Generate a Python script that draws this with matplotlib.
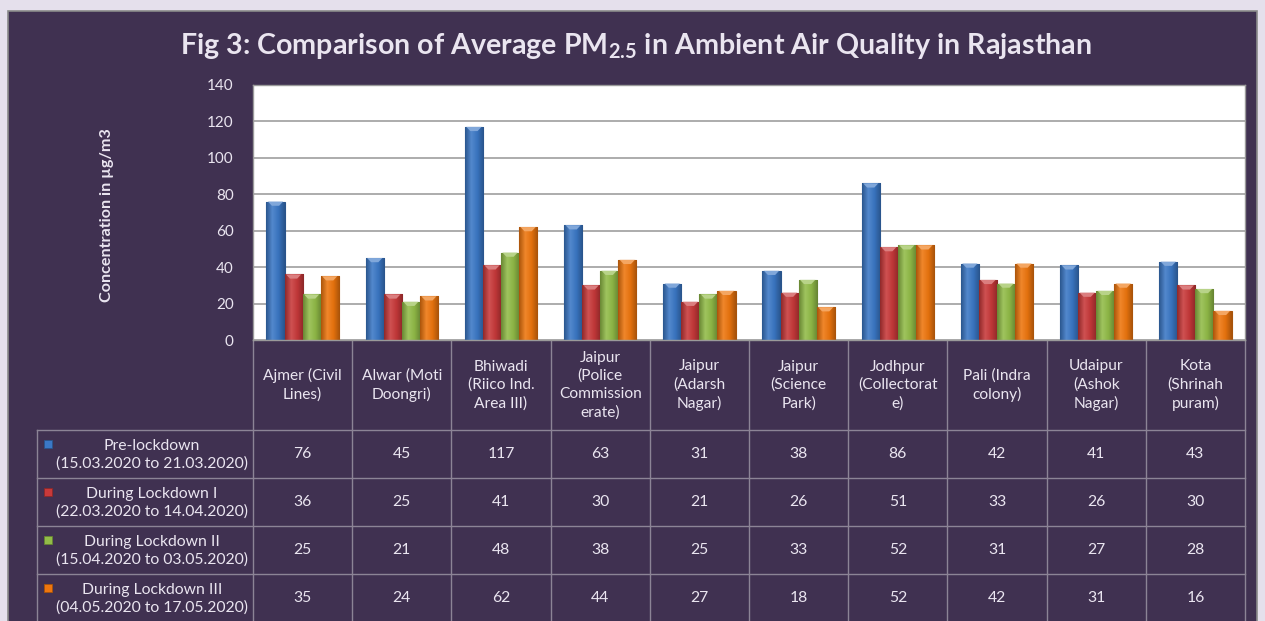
import numpy as np
import matplotlib
matplotlib.use("Agg")
import matplotlib.pyplot as plt
from matplotlib.patches import Rectangle, Polygon
from matplotlib.colors import LinearSegmentedColormap, to_rgb

categories = ["Ajmer (Civil\nLines)", "Alwar (Moti\nDoongri)", "Bhiwadi\n(Riico Ind.\nArea III)",
              "Jaipur\n(Police\nCommission\nerate)", "Jaipur\n(Adarsh\nNagar)", "Jaipur\n(Science\nPark)",
              "Jodhpur\n(Collectorat\ne)", "Pali (Indra\ncolony)", "Udaipur\n(Ashok\nNagar)",
              "Kota\n(Shrinah\npuram)"]
series_names = ["Pre-lockdown\n(15.03.2020 to 21.03.2020)",
                "During Lockdown I\n(22.03.2020 to 14.04.2020)",
                "During Lockdown II\n(15.04.2020 to 03.05.2020)",
                "During Lockdown III\n(04.05.2020 to 17.05.2020)"]
pre_lockdown = [76, 45, 117, 63, 31, 38, 86, 42, 41, 43]
lockdown_1 = [36, 25, 41, 30, 21, 26, 51, 33, 26, 30]
lockdown_2 = [25, 21, 48, 38, 25, 33, 52, 31, 27, 28]
lockdown_3 = [35, 24, 62, 44, 27, 18, 52, 42, 31, 16]
yticks = [0, 20, 40, 60, 80, 100, 120, 140]

series = [pre_lockdown, lockdown_1, lockdown_2, lockdown_3]
colors = ["#3B78C6", "#C8393A", "#92BC48", "#EE760E"]

FONT = ["Lato", "DejaVu Sans"]
plt.rcParams['font.family'] = FONT
plt.rcParams['mathtext.fontset'] = 'custom'
plt.rcParams['mathtext.rm'] = 'Lato'
plt.rcParams['mathtext.bf'] = 'Lato:bold'
plt.rcParams['mathtext.it'] = 'Lato:italic'
TXT = "#EAE5F0"
DARK = "#403151"
LINE = "#8C8496"

W, H = 1265, 621
fig = plt.figure(figsize=(W / 100, H / 100), dpi=100)
fig.patch.set_facecolor("#E5E0EC")

# background / table axes in pixel coords
bg = fig.add_axes([0, 0, 1, 1], zorder=0)
bg.set_xlim(0, W)
bg.set_ylim(H, 0)
bg.axis("off")
bg.add_patch(Rectangle((8, 11), 1249, 640, facecolor=DARK, edgecolor="#8A8A8A", lw=1.2))

# plot area geometry (pixels)
px0, px1, py0, py1 = 253, 1245, 85, 340
ax = fig.add_axes([px0 / W, (H - py1) / H, (px1 - px0) / W, (py1 - py0) / H], zorder=1)
ax.set_facecolor("white")
n = len(categories)
x = np.arange(n)
bw = 0.182
ax.set_xlim(-0.5, n - 0.5)
ax.set_ylim(0, 140)
ax.set_yticks(yticks)
ax.set_yticklabels([str(t) for t in yticks], color=TXT, fontsize=11)
ax.tick_params(axis="y", length=0, pad=14)
ax.set_xticks([])
for s in ax.spines.values():
    s.set_color("#9A9A9A")
    s.set_linewidth(1)
ax.yaxis.grid(True, color="#A6A6A6", lw=1.3)
ax.set_axisbelow(True)

def shade(c, f):
    r = np.array(to_rgb(c))
    return tuple(np.clip(r * f, 0, 1)) if f < 1 else tuple(r + (1 - r) * (f - 1))

for k, (vals, col) in enumerate(zip(series, colors)):
    offs = (k - 1.5) * bw
    bars = ax.bar(x + offs, vals, width=bw, color=col, edgecolor=shade(col, 0.7), lw=0.8, zorder=2)
    cmap = LinearSegmentedColormap.from_list("g", [shade(col, 0.72), shade(col, 1.12), shade(col, 0.95), shade(col, 0.7)])
    grad = np.linspace(0, 1, 64).reshape(1, -1)
    for b in bars:
        x0, w, h = b.get_x(), b.get_width(), b.get_height()
        im = ax.imshow(grad, extent=[x0, x0 + w, 0, h], aspect="auto", cmap=cmap, zorder=2.5)
        im.set_clip_path(b)
        d = 2.3
        ax.add_patch(Polygon([[x0 + w * 0.08, h], [x0 + w * 0.92, h], [x0 + w * 0.7, h - d], [x0 + w * 0.3, h - d]],
                             closed=True, facecolor=shade(col, 1.35), edgecolor="none", zorder=3))
ax.set_xlim(-0.5, n - 0.5)
ax.set_ylim(0, 140)

# y label
fig.text(107 / W, 1 - 215 / H, "Concentration in µg/m3", rotation=90, color=TXT, fontsize=11.6,
         fontweight="bold", ha="center", va="center", family=FONT)

# title
fig.text(636 / W, 1 - 46 / H, "Fig 3: Comparison of Average PM$_{\\mathbf{2.5}}$ in Ambient Air Quality in Rajasthan",
         color=TXT, fontsize=20.6, fontweight="bold", ha="center", va="center", family=FONT)

# table
cw = (px1 - px0) / n
rows_y = [430, 478, 526, 574, 622]
lab_x0 = 37
for yy in rows_y[:-1]:
    bg.plot([lab_x0, px1], [yy, yy], color=LINE, lw=1)
bg.plot([lab_x0, lab_x0], [rows_y[0], H], color=LINE, lw=1)
for i in range(n + 1):
    xx = px0 + i * cw
    bg.plot([xx, xx], [py1, H], color=LINE, lw=1)
for i, c in enumerate(categories):
    cx = px0 + (i + 0.5) * cw
    bg.text(cx, 385, c, color=TXT, fontsize=11.2, ha="center", va="center", linespacing=1.35)
for r, (name, vals, col) in enumerate(zip(series_names, series, colors)):
    ytop, ybot = rows_y[r], rows_y[r + 1]
    cy = (ytop + ybot) / 2
    bg.text(152, cy + 1, name, color=TXT, fontsize=11.3, ha="center", va="center", linespacing=1.3)
    bg.add_patch(Rectangle((44, cy - 14), 8, 8, facecolor=col, edgecolor=shade(col, 0.7), lw=0.6))
    for i, v in enumerate(vals):
        cx = px0 + (i + 0.5) * cw
        bg.text(cx, cy, str(v), color=TXT, fontsize=11.3, ha="center", va="center")

fig.savefig("out.png", dpi=100, facecolor=fig.get_facecolor())
